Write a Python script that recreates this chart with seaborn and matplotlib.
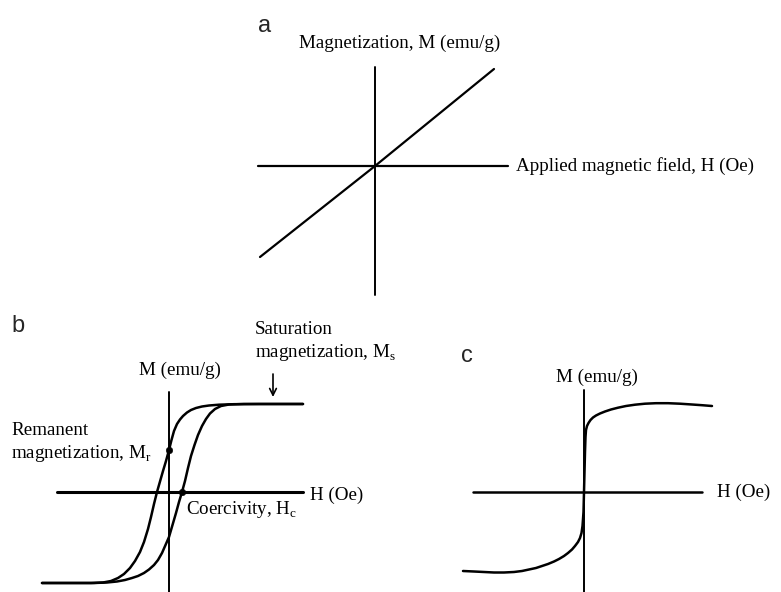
import pandas as pd
import seaborn as sns
import matplotlib.pyplot as plt

### Data (units relative to each panel's origin) ###

# a: linear (paramagnetic) response
a_h = [-115, 0, 119]
a_m = [-91, 0, 97]

# b: hysteresis loop, descending branch (right -> left)
b_upper_h = [134, 90, 65, 50, 40, 33, 27, 22, 18, 14, 11, 8, 5, 2.5, 0, -3, -6, -9, -12, -15,
             -18, -21, -25, -29, -34, -39, -45, -51, -58, -66, -78, -127]
b_upper_m = [88, 88, 87.8, 87.3, 86.5, 85.5, 84, 82, 79.5, 76, 72.5, 68, 61, 52, 42, 31, 21, 10.5, 0, -12,
             -25, -37, -50, -60, -69, -76, -82, -86, -89, -90.5, -91, -91]
# b: ascending branch (left -> right)
b_lower_h = [-127, -75, -62, -52, -44, -37, -31, -25, -20, -15, -11, -7, -3.5, 0, 3.5, 7, 10, 13,
             16, 19, 22, 25.5, 29, 33, 37, 41, 46, 52, 60, 75, 134]
b_lower_m = [-91, -91, -90.5, -89.5, -88, -86, -84, -81, -77.5, -73, -68, -61, -53, -45, -33, -21, -10, 0,
             11, 24, 36, 47, 57, 66, 73, 78.5, 83, 86, 87.5, 88, 88]
# b: marked points (remanence, coercivity)
b_marks_h = [0, 13]
b_marks_m = [42, 0]

# c: superparamagnetic-like curve
c_h = [-121, -110, -100, -90, -80, -70, -62, -55, -48, -42, -36, -30, -25, -20, -16, -12, -9, -6, -4,
       -2.5, -1.5, -0.5, 0, 0.5, 1, 1.5, 2, 3, 4.5, 6.5, 9, 12, 16, 21, 27, 34, 42, 51, 61, 72, 84,
       96, 108, 118, 128]
c_m = [-79, -79.5, -80, -80.5, -80.5, -80, -79, -77.5, -76, -74, -72, -69.5, -67, -64, -61, -57.5, -54, -50, -46,
       -41, -34, -20, 0, 20, 40, 55, 62, 66, 69, 72, 74.5, 76.5, 78.5, 80.5, 82.5, 84.3, 86, 87.3, 88.3, 88.8, 88.8,
       88.3, 87.5, 86.8, 86]

labels_a = ["Magnetization, M (emu/g)", "Applied magnetic field, H (Oe)"]
labels_b = ["M (emu/g)", "H (Oe)", "Remanent\nmagnetization, M$_\\mathregular{r}$",
            "Saturation\nmagnetization, M$_\\mathregular{s}$", "Coercivity, H$_\\mathregular{c}$"]
labels_c = ["M (emu/g)", "H (Oe)"]

### Style ###

sns.set_theme(style="white")
plt.rcParams["font.family"] = ["Liberation Serif", "DejaVu Serif"]
plt.rcParams["mathtext.fontset"] = "custom"
plt.rcParams["mathtext.rm"] = "Liberation Serif"

W, H = 781, 592
fig = plt.figure(figsize=(W / 100, H / 100), dpi=100)
fig.patch.set_facecolor("white")

def panel(box, origin):
    """Axes covering pixel box (x0, y0, x1, y1) with 1 data unit = 1 px, origin at the axes crossing."""
    x0, y0, x1, y1 = box
    ox, oy = origin
    ax = fig.add_axes([x0 / W, (H - y1) / H, (x1 - x0) / W, (y1 - y0) / H])
    ax.set_xlim(x0 - ox, x1 - ox)
    ax.set_ylim(oy - y1, oy - y0)
    ax.set_axis_off()
    return ax

def curve(ax, h, m, lw=1.8):
    df = pd.DataFrame({"H": h, "M": m})
    sns.lineplot(data=df, x="H", y="M", sort=False, estimator=None, color="black",
                 linewidth=lw, ax=ax, solid_joinstyle="round", solid_capstyle="round")

letter_kw = dict(family=["Liberation Sans", "DejaVu Sans"], fontsize=17, ha="center", va="center")
txt_kw = dict(fontsize=13.7, color="black")

### a ###
ax = panel((240, 0, 781, 300), (375, 166))
ax.plot([-117, 133], [0, 0], color="black", lw=1.6)
ax.plot([0, 0], [-129, 99], color="black", lw=1.4)
curve(ax, a_h, a_m, lw=1.6)
ax.text(-110, 140, "a", **letter_kw)
ax.text(25, 123, labels_a[0], ha="center", va="center", **txt_kw)
ax.text(141, 0, labels_a[1], ha="left", va="center", **txt_kw)

### b ###
ax = panel((0, 300, 420, 592), (169, 492))
ax.plot([-112, 134], [0, 0], color="black", lw=2.2)
ax.plot([0, 0], [-100, 100], color="black", lw=1.4)
curve(ax, b_upper_h, b_upper_m)
curve(ax, b_lower_h, b_lower_m)
sns.scatterplot(x=b_marks_h, y=b_marks_m, color="black", s=22, edgecolor="black", ax=ax, zorder=5)
ax.text(-151, 166, "b", **letter_kw)
ax.text(11, 122, labels_b[0], ha="center", va="center", **txt_kw)
ax.text(141, -3, labels_b[1], ha="left", va="center", **txt_kw)
ax.text(-158, 49, labels_b[2], ha="left", va="center", linespacing=1.25, **txt_kw)
ax.text(86, 150, labels_b[3], ha="left", va="center", linespacing=1.25, **txt_kw)
ax.text(17, -18, labels_b[4], ha="left", va="center", **txt_kw)
ax.annotate("", xy=(104, 95), xytext=(104, 118),
            arrowprops=dict(arrowstyle="->", color="black", lw=1.2, shrinkA=0, shrinkB=0))

### c ###
ax = panel((440, 330, 781, 592), (584, 492))
ax.plot([-111, 118], [0, 0], color="black", lw=1.8)
ax.plot([0, 0], [-100, 102], color="black", lw=1.4)
curve(ax, c_h, c_m)
ax.text(-117, 136, "c", **letter_kw)
ax.text(13, 115, labels_c[0], ha="center", va="center", **txt_kw)
ax.text(133, 0, labels_c[1], ha="left", va="center", **txt_kw)

fig.savefig("out.png", dpi=100)
